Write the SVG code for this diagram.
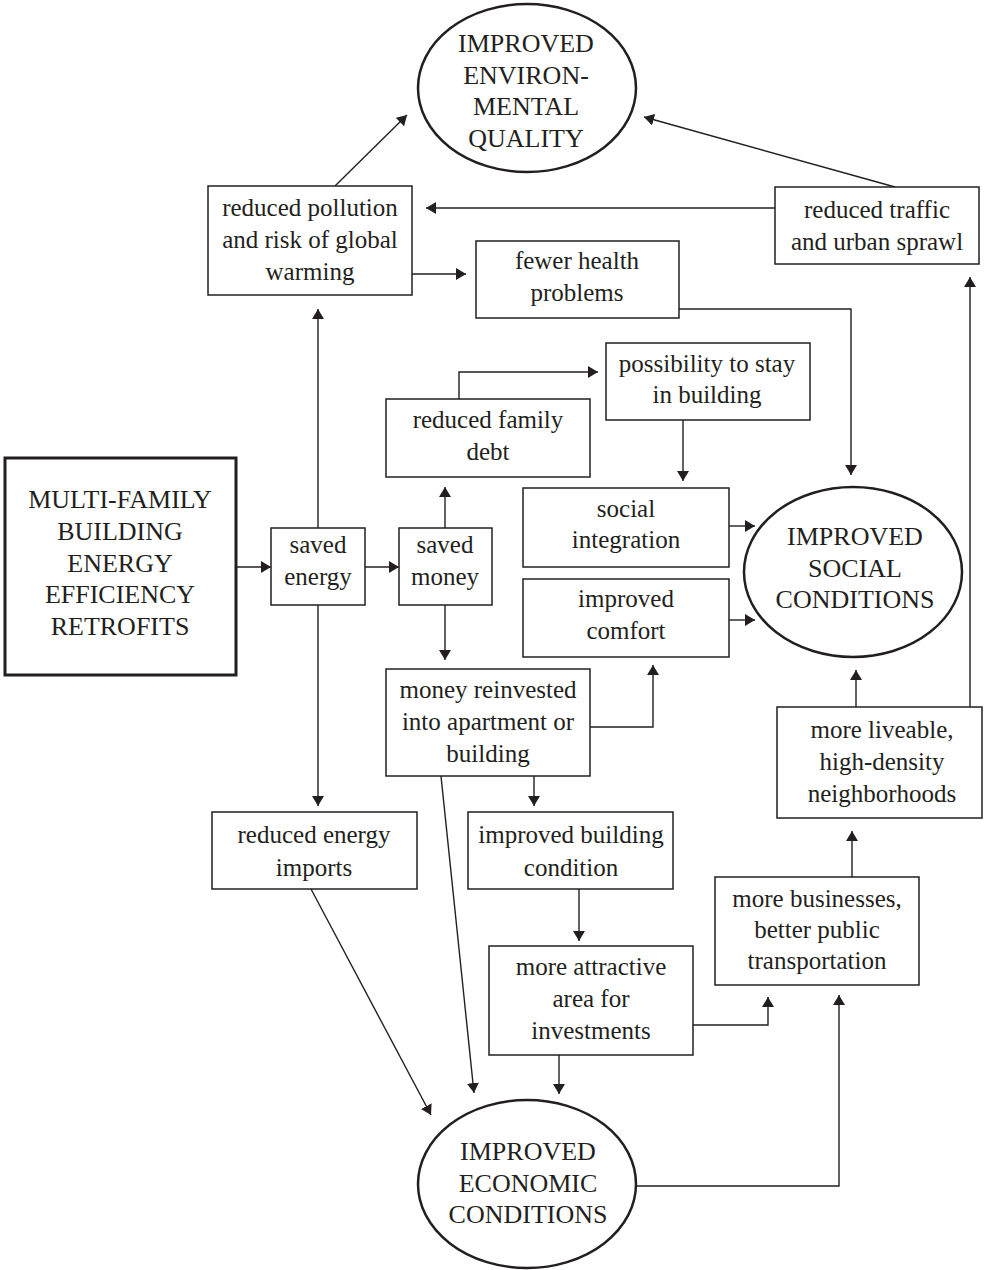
<svg xmlns="http://www.w3.org/2000/svg" width="985" height="1270" viewBox="0 0 985 1270">
<style>
  .box { fill: #ffffff; stroke: #231f20; stroke-width: 1.5; }
  .thick { fill: #ffffff; stroke: #231f20; stroke-width: 3; }
  .ell { fill: #ffffff; stroke: #231f20; stroke-width: 2.5; }
  .t { font-size: 25px; fill: #231f20; text-anchor: middle; }
  .c { font-size: 26px; fill: #231f20; text-anchor: middle; }
  .ln { fill: none; stroke: #231f20; stroke-width: 1.4; }
</style>
<defs>
  <marker id="ah" markerUnits="userSpaceOnUse" markerWidth="11" markerHeight="12" refX="10" refY="6" orient="auto">
    <path d="M0,0 L10,6 L0,12 z" fill="#231f20"/>
  </marker>
</defs>
<rect width="985" height="1270" fill="#ffffff"/>

<g id="connectors">
  <path class="ln" marker-end="url(#ah)" d="M236,567 H271"/>
  <path class="ln" marker-end="url(#ah)" d="M365,567 H399"/>
  <path class="ln" marker-end="url(#ah)" d="M318,528 V309"/>
  <path class="ln" marker-end="url(#ah)" d="M318,605 V806"/>
  <path class="ln" marker-end="url(#ah)" d="M445,528 V487"/>
  <path class="ln" marker-end="url(#ah)" d="M445,605 V660"/>
  <path class="ln" marker-end="url(#ah)" d="M459,399 V372 H598"/>
  <path class="ln" marker-end="url(#ah)" d="M683,420 V481"/>
  <path class="ln" marker-end="url(#ah)" d="M679,309 H851 V475"/>
  <path class="ln" marker-end="url(#ah)" d="M412,274 H466"/>
  <path class="ln" marker-end="url(#ah)" d="M335,186 L407,115"/>
  <path class="ln" marker-end="url(#ah)" d="M775,208 H426"/>
  <path class="ln" marker-end="url(#ah)" d="M895,187 L644,117"/>
  <path class="ln" marker-end="url(#ah)" d="M729,526 H755"/>
  <path class="ln" marker-end="url(#ah)" d="M729,620 H755"/>
  <path class="ln" marker-end="url(#ah)" d="M590,727 H653 V665"/>
  <path class="ln" marker-end="url(#ah)" d="M534,776 V806"/>
  <path class="ln" marker-end="url(#ah)" d="M441,776 L474,1093"/>
  <path class="ln" marker-end="url(#ah)" d="M311,889 L431,1115"/>
  <path class="ln" marker-end="url(#ah)" d="M579,889 V941"/>
  <path class="ln" marker-end="url(#ah)" d="M559,1055 V1094"/>
  <path class="ln" marker-end="url(#ah)" d="M693,1025 H768 V997"/>
  <path class="ln" marker-end="url(#ah)" d="M636,1186 H839 V995"/>
  <path class="ln" marker-end="url(#ah)" d="M852,877 V831"/>
  <path class="ln" marker-end="url(#ah)" d="M856,707 V670"/>
  <path class="ln" marker-end="url(#ah)" d="M970,707 V277"/>
</g>

<g id="env">
  <ellipse class="ell" cx="527" cy="88" rx="109" ry="84"/>
  <text class="c" font-family="Liberation Serif" x="526" y="52">IMPROVED</text>
  <text class="c" font-family="Liberation Serif" x="526" y="84">ENVIRON-</text>
  <text class="c" font-family="Liberation Serif" x="526" y="115">MENTAL</text>
  <text class="c" font-family="Liberation Serif" x="526" y="147">QUALITY</text>
</g>

<g id="pollution">
  <rect class="box" x="208" y="186" width="204" height="109"/>
  <text class="t" font-family="Liberation Serif" x="310" y="216">reduced pollution</text>
  <text class="t" font-family="Liberation Serif" x="310" y="248">and risk of global</text>
  <text class="t" font-family="Liberation Serif" x="310" y="280">warming</text>
</g>

<g id="traffic">
  <rect class="box" x="775" y="187" width="204" height="77"/>
  <text class="t" font-family="Liberation Serif" x="877" y="218">reduced traffic</text>
  <text class="t" font-family="Liberation Serif" x="877" y="250">and urban sprawl</text>
</g>

<g id="health">
  <rect class="box" x="476" y="241" width="203" height="77"/>
  <text class="t" font-family="Liberation Serif" x="577" y="269">fewer health</text>
  <text class="t" font-family="Liberation Serif" x="577" y="301">problems</text>
</g>

<g id="possibility">
  <rect class="box" x="606" y="343" width="204" height="77"/>
  <text class="t" font-family="Liberation Serif" x="707" y="372">possibility to stay</text>
  <text class="t" font-family="Liberation Serif" x="707" y="403">in building</text>
</g>

<g id="debt">
  <rect class="box" x="386" y="399" width="204" height="78"/>
  <text class="t" font-family="Liberation Serif" x="488" y="428">reduced family</text>
  <text class="t" font-family="Liberation Serif" x="488" y="460">debt</text>
</g>

<g id="multi">
  <rect class="thick" x="5" y="458" width="231" height="217"/>
  <text class="c" font-family="Liberation Serif" x="120" y="508">MULTI-FAMILY</text>
  <text class="c" font-family="Liberation Serif" x="120" y="540">BUILDING</text>
  <text class="c" font-family="Liberation Serif" x="120" y="572">ENERGY</text>
  <text class="c" font-family="Liberation Serif" x="120" y="603">EFFICIENCY</text>
  <text class="c" font-family="Liberation Serif" x="120" y="635">RETROFITS</text>
</g>

<g id="saved-energy">
  <rect class="box" x="271" y="528" width="94" height="77"/>
  <text class="t" font-family="Liberation Serif" x="318" y="553">saved</text>
  <text class="t" font-family="Liberation Serif" x="318" y="585">energy</text>
</g>

<g id="saved-money">
  <rect class="box" x="399" y="528" width="93" height="77"/>
  <text class="t" font-family="Liberation Serif" x="445" y="553">saved</text>
  <text class="t" font-family="Liberation Serif" x="445" y="585">money</text>
</g>

<g id="social-integration">
  <rect class="box" x="523" y="488" width="206" height="79"/>
  <text class="t" font-family="Liberation Serif" x="626" y="517">social</text>
  <text class="t" font-family="Liberation Serif" x="626" y="548">integration</text>
</g>

<g id="comfort">
  <rect class="box" x="523" y="579" width="206" height="78"/>
  <text class="t" font-family="Liberation Serif" x="626" y="607">improved</text>
  <text class="t" font-family="Liberation Serif" x="626" y="639">comfort</text>
</g>

<g id="social">
  <ellipse class="ell" cx="853" cy="572" rx="109" ry="85"/>
  <text class="c" font-family="Liberation Serif" x="855" y="545">IMPROVED</text>
  <text class="c" font-family="Liberation Serif" x="855" y="577">SOCIAL</text>
  <text class="c" font-family="Liberation Serif" x="855" y="608">CONDITIONS</text>
</g>

<g id="reinvested">
  <rect class="box" x="386" y="669" width="204" height="107"/>
  <text class="t" font-family="Liberation Serif" x="488" y="698">money reinvested</text>
  <text class="t" font-family="Liberation Serif" x="488" y="730">into apartment or</text>
  <text class="t" font-family="Liberation Serif" x="488" y="762">building</text>
</g>

<g id="liveable">
  <rect class="box" x="777" y="707" width="205" height="111"/>
  <text class="t" font-family="Liberation Serif" x="882" y="738">more liveable,</text>
  <text class="t" font-family="Liberation Serif" x="882" y="770">high-density</text>
  <text class="t" font-family="Liberation Serif" x="882" y="802">neighborhoods</text>
</g>

<g id="imports">
  <rect class="box" x="212" y="812" width="205" height="77"/>
  <text class="t" font-family="Liberation Serif" x="314" y="843">reduced energy</text>
  <text class="t" font-family="Liberation Serif" x="314" y="876">imports</text>
</g>

<g id="building-condition">
  <rect class="box" x="468" y="812" width="205" height="77"/>
  <text class="t" font-family="Liberation Serif" x="571" y="843">improved building</text>
  <text class="t" font-family="Liberation Serif" x="571" y="876">condition</text>
</g>

<g id="businesses">
  <rect class="box" x="715" y="877" width="204" height="108"/>
  <text class="t" font-family="Liberation Serif" x="817" y="907">more businesses,</text>
  <text class="t" font-family="Liberation Serif" x="817" y="938">better public</text>
  <text class="t" font-family="Liberation Serif" x="817" y="969">transportation</text>
</g>

<g id="attractive">
  <rect class="box" x="489" y="946" width="204" height="109"/>
  <text class="t" font-family="Liberation Serif" x="591" y="975">more attractive</text>
  <text class="t" font-family="Liberation Serif" x="591" y="1007">area for</text>
  <text class="t" font-family="Liberation Serif" x="591" y="1039">investments</text>
</g>

<g id="economic">
  <ellipse class="ell" cx="527" cy="1184" rx="109" ry="84"/>
  <text class="c" font-family="Liberation Serif" x="528" y="1160">IMPROVED</text>
  <text class="c" font-family="Liberation Serif" x="528" y="1192">ECONOMIC</text>
  <text class="c" font-family="Liberation Serif" x="528" y="1223">CONDITIONS</text>
</g>
</svg>
